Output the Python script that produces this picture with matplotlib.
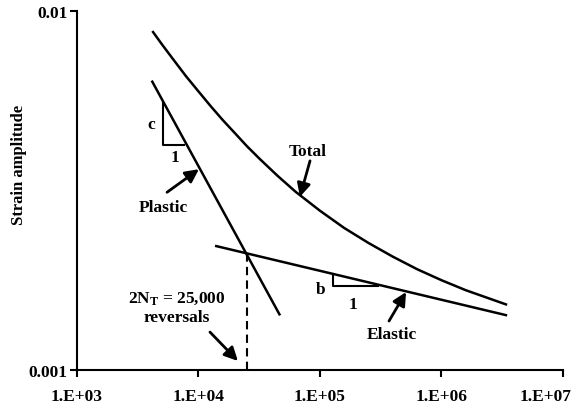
import matplotlib
matplotlib.use("Agg")
import matplotlib.pyplot as plt
import matplotlib.transforms as mtransforms
from matplotlib.ticker import FixedLocator, FixedFormatter, NullLocator

plt.rcParams['font.family'] = ['Liberation Serif', 'DejaVu Serif']
plt.rcParams['font.weight'] = 'bold'
plt.rcParams['mathtext.fontset'] = 'custom'
plt.rcParams['mathtext.rm'] = 'Liberation Serif:bold'
plt.rcParams['mathtext.it'] = 'Liberation Serif:italic:bold'

# reversals (2N) and strain amplitude along each curve
total_n = [4170, 5000, 6300, 7900, 10000, 12600, 15800, 20000, 25000, 31600,
           44700, 63000, 100000, 158000, 251000, 398000, 631000, 1000000,
           1580000, 2510000, 3470000]
total_eps = [0.00881, 0.00809, 0.00729, 0.00659, 0.00598, 0.00544, 0.00498,
             0.00457, 0.00421, 0.00389, 0.00348, 0.00314, 0.00278, 0.00249,
             0.00226, 0.00207, 0.00191, 0.00178, 0.00167, 0.00158, 0.00152]

plastic_n = [4120, 46900]
plastic_eps = [0.00641, 0.00142]

elastic_n = [13680, 3470000]
elastic_eps = [0.00222, 0.00142]

transition_n = 25000
transition_eps = 0.00212

# slope triangles: (x left, x right, y top, y bottom)
tri_c = [5130, 7640, 0.00554, 0.00425]
tri_b = [127000, 302000, 0.00185, 0.00172]

xticks = [1e3, 1e4, 1e5, 1e6, 1e7]
xlabels = ['1.E+03', '1.E+04', '1.E+05', '1.E+06', '1.E+07']
yticks = [0.001, 0.01]
ylabels = ['0.001', '0.01']

fig = plt.figure(figsize=(5.81, 4.10), dpi=100)
ax = fig.add_axes([0.1325, 0.095, 0.8365, 0.875])

lw = 1.8
ax.plot(total_n, total_eps, color='black', lw=lw, solid_capstyle='butt')
ax.plot(plastic_n, plastic_eps, color='black', lw=lw, solid_capstyle='butt')
ax.plot(elastic_n, elastic_eps, color='black', lw=lw, solid_capstyle='butt')
ax.plot([transition_n, transition_n], [0.001, transition_eps], color='black',
        lw=1.5, ls=(0, (4, 2.5)))

# slope triangles
ax.plot([tri_c[0], tri_c[0], tri_c[1]], [tri_c[2], tri_c[3], tri_c[3]],
        color='black', lw=1.5)
ax.plot([tri_b[0], tri_b[0], tri_b[1]], [tri_b[2], tri_b[3], tri_b[3]],
        color='black', lw=1.5)

ax.set_xscale('log')
ax.set_yscale('log')
ax.set_xlim(1e3, 1e7)
ax.set_ylim(0.001, 0.01)

ax.xaxis.set_major_locator(FixedLocator(xticks))
ax.xaxis.set_major_formatter(FixedFormatter(xlabels))
ax.xaxis.set_minor_locator(NullLocator())
ax.yaxis.set_major_locator(FixedLocator(yticks))
ax.yaxis.set_major_formatter(FixedFormatter(ylabels))
ax.yaxis.set_minor_locator(NullLocator())

for s in ['top', 'right']:
    ax.spines[s].set_visible(False)
for s in ['left', 'bottom']:
    ax.spines[s].set_linewidth(1.5)
ax.tick_params(axis='both', direction='out', length=5, width=1.5,
               labelsize=12.5)
ax.tick_params(axis='x', pad=8)
ax.tick_params(axis='y', pad=2)

ax.set_ylabel('Strain amplitude', fontsize=12, fontweight='bold')
ax.yaxis.set_label_coords(-0.103, 0.574)

fs = 12.5
arrow = dict(arrowstyle='-|>,head_length=0.8,head_width=0.4', color='black',
             lw=2, shrinkA=0, shrinkB=0)

ax.text(79600, 0.00408, 'Total', ha='center', va='center', fontsize=fs)
ax.annotate('', xy=(68400, 0.00304), xytext=(82800, 0.00383), arrowprops=arrow)

ax.text(5100, 0.00285, 'Plastic', ha='center', va='center', fontsize=fs)
ax.annotate('', xy=(10090, 0.00363), xytext=(5510, 0.00313), arrowprops=arrow)

ax.text(389000, 0.00126, 'Elastic', ha='center', va='center', fontsize=fs)
ax.annotate('', xy=(511000, 0.00165), xytext=(370000, 0.00137), arrowprops=arrow)

ax.text(6650, 0.0015, '2N$_\\mathregular{T}$ = 25,000\nreversals', ha='center',
        va='center', fontsize=fs, linespacing=1.25)
ax.annotate('', xy=(21100, 0.00106), xytext=(12430, 0.001276), arrowprops=arrow)

ax.text(4120, 0.00485, 'c', ha='center', va='center', fontsize=fs)
ax.text(6410, 0.00392, '1', ha='center', va='center', fontsize=fs)
ax.text(101400, 0.00168, 'b', ha='center', va='center', fontsize=fs)
ax.text(187000, 0.00153, '1', ha='center', va='center', fontsize=fs)

# pull the last x label in so it stays inside the figure
fig.canvas.draw()
last = ax.xaxis.get_major_ticks()[-1].label1
last.set_transform(last.get_transform() +
                   mtransforms.ScaledTranslation(-0.17, 0, fig.dpi_scale_trans))

fig.savefig('out.png', dpi=100)
